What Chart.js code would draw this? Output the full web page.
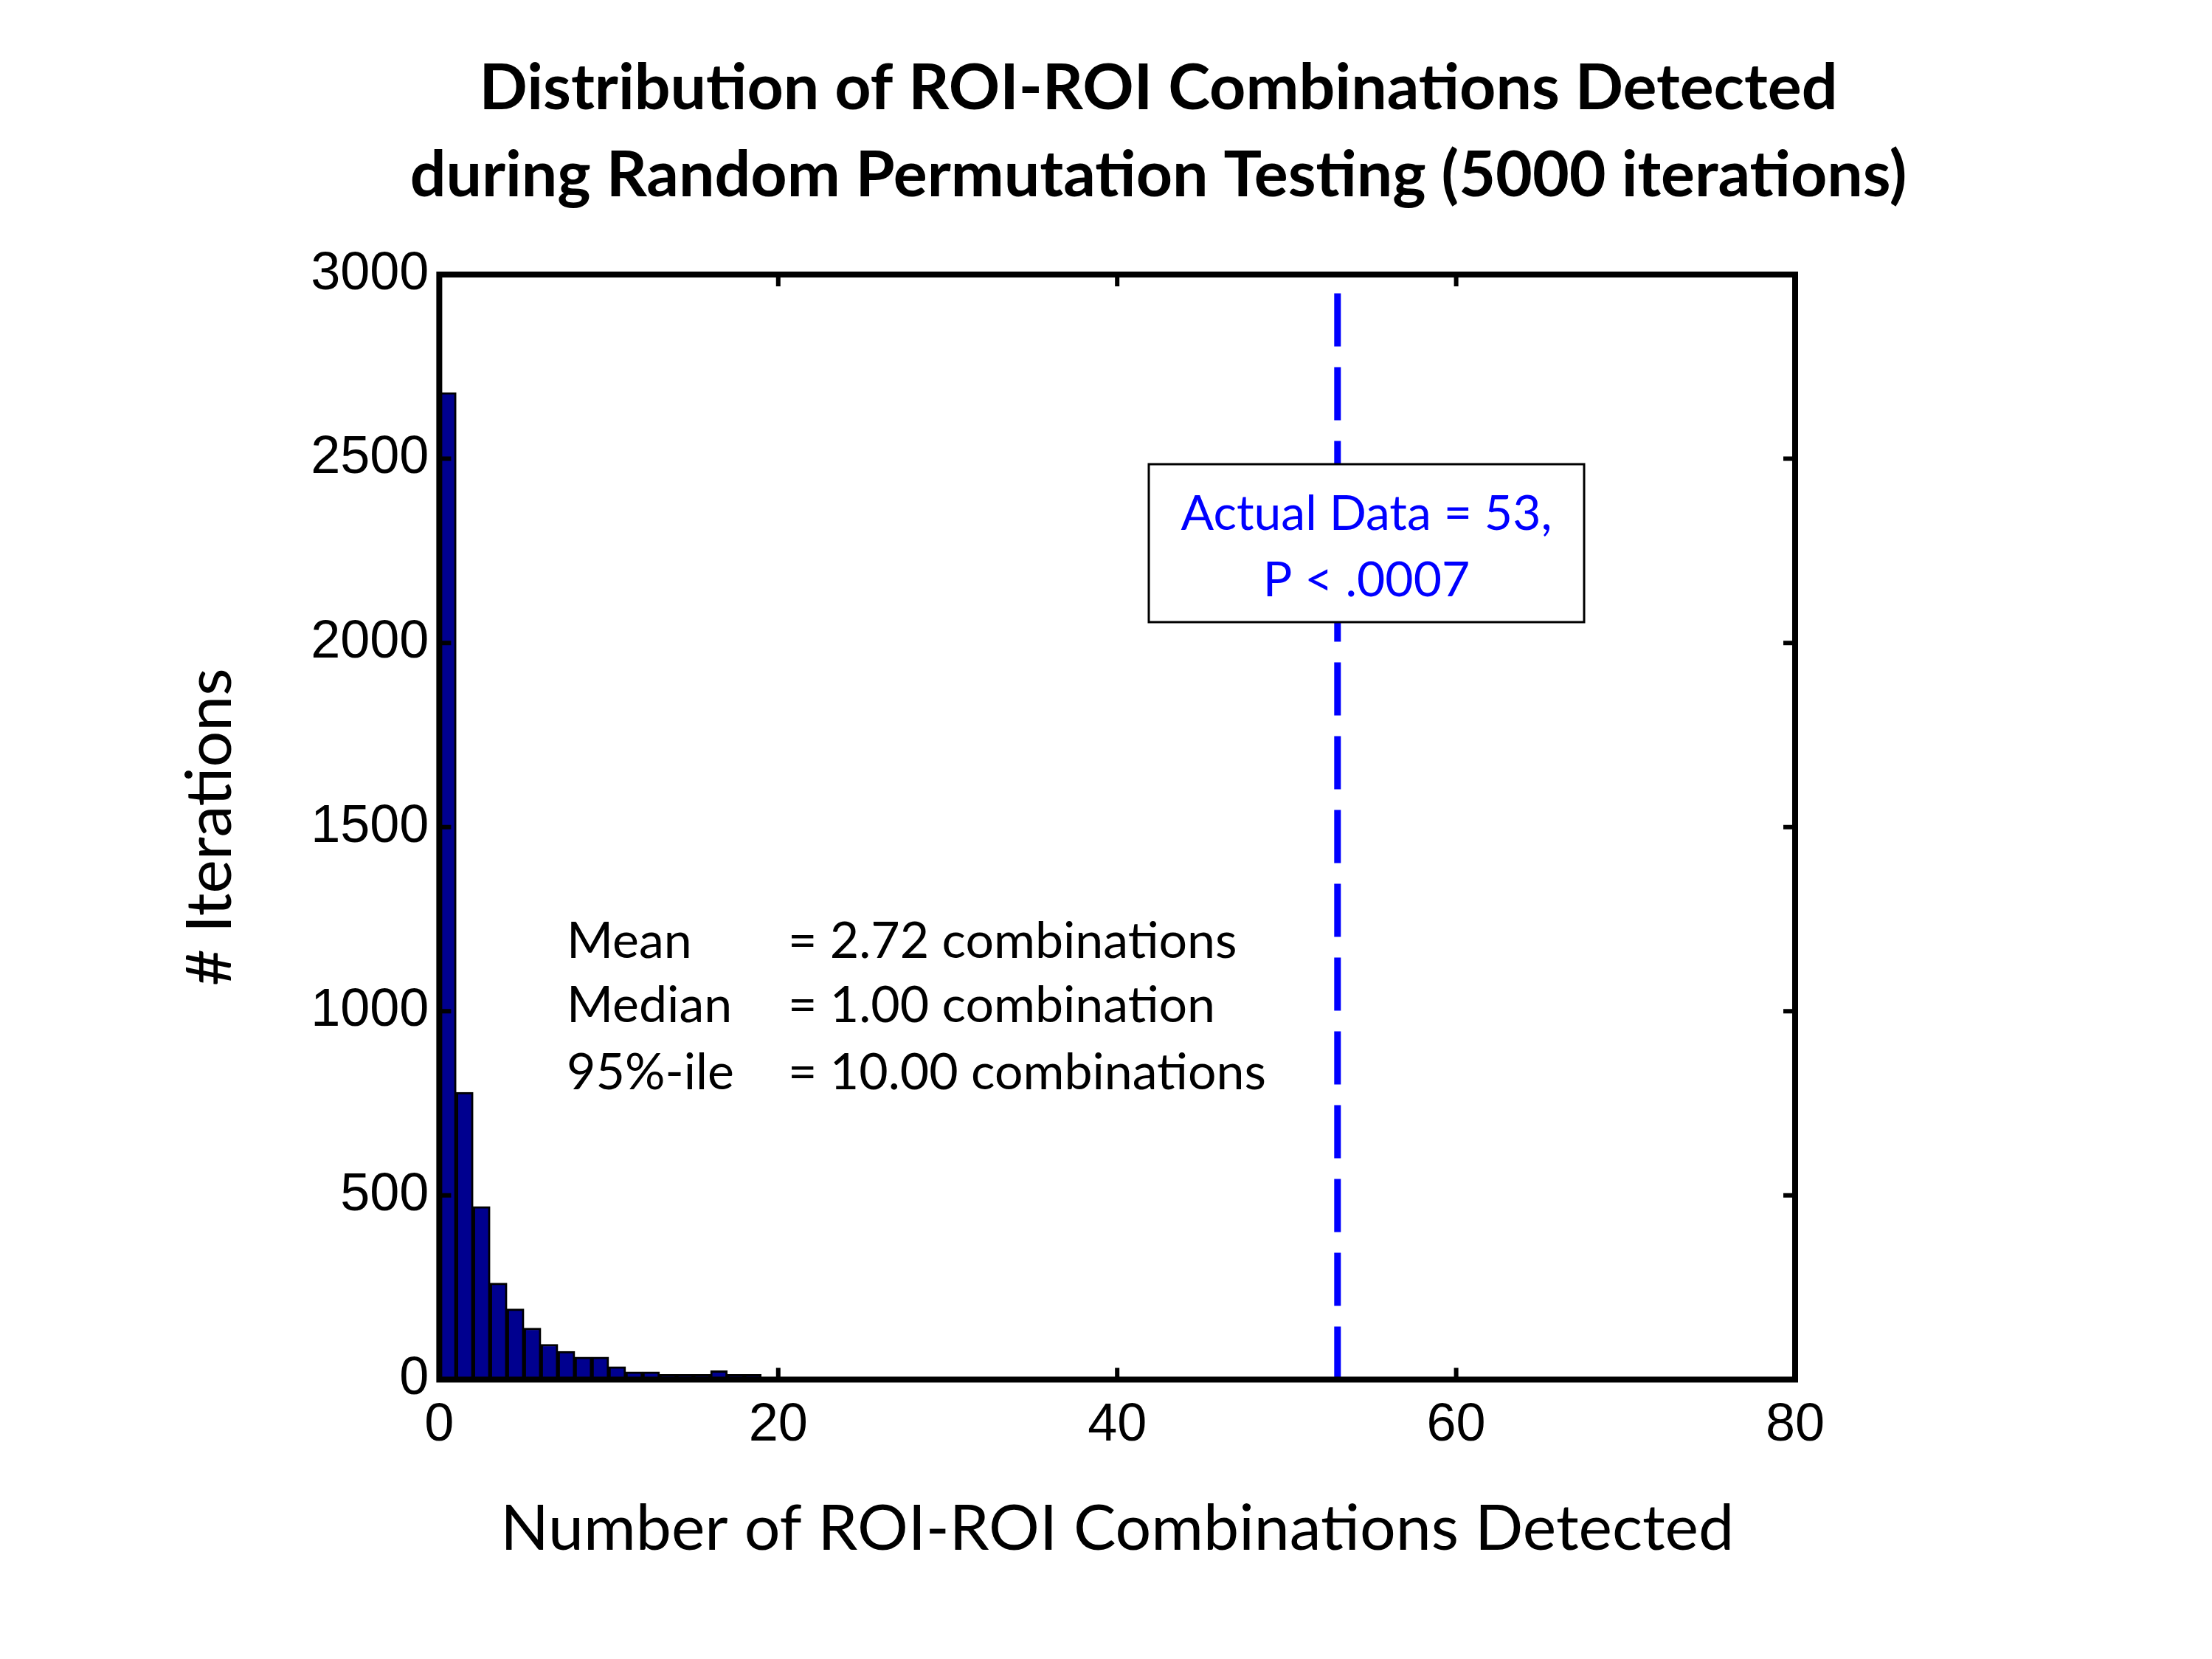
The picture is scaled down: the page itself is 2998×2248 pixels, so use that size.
<!DOCTYPE html>
<html><head><meta charset="utf-8">
<script src="https://cdn.jsdelivr.net/npm/chart.js@4"></script>
<style>html,body{margin:0;padding:0;background:#fff}#w{width:2998px;height:2248px}</style>
</head><body><div id="w"><canvas id="c"></canvas></div>
<script>
const binStarts = [0,1,2,3,4,5,6,7,8,9,10,11,12,13,14,15,16,17,18];
const counts = [2680,780,470,262,192,140,96,77,61,61,35,21,21,14,14,14,24,14,14];
const actualValue = 53;
const xTicks = [0,20,40,60,80];
const yTicks = [0,500,1000,1500,2000,2500,3000];
const titleLines = ['Distribution of ROI-ROI Combinations Detected','during Random Permutation Testing (5000 iterations)'];
const statLabels = ['Mean','Median','95%-ile'];
const statValues = ['= 2.72 combinations','= 1.00 combination','= 10.00 combinations'];
const boxLines = ['Actual Data = 53,','P < .0007'];

const decor = {
  id:'decor',
  afterDatasetsDraw(ch){
    const {ctx, chartArea:a, scales:{x,y}} = ch;
    ctx.save();
    // title
    ctx.fillStyle='#000'; ctx.textAlign='center'; ctx.textBaseline='middle';
    ctx.font='bold 86px Lato, "Open Sans", sans-serif';
    ctx.fillText(titleLines[0],1570,120);
    ctx.fillText(titleLines[1],1570,238);
    // dashed line
    ctx.strokeStyle='#0000ff'; ctx.lineWidth=9; ctx.setLineDash([72,28]);
    const lx = x.getPixelForValue(actualValue);
    ctx.beginPath(); ctx.moveTo(lx,a.bottom); ctx.lineTo(lx,a.top); ctx.stroke();
    ctx.setLineDash([]);
    // frame
    ctx.strokeStyle='#000'; ctx.lineWidth=8;
    ctx.strokeRect(a.left,a.top,a.right-a.left,a.bottom-a.top);
    ctx.lineWidth=6;
    const t=16;
    xTicks.forEach(v=>{const p=x.getPixelForValue(v);
      ctx.beginPath();ctx.moveTo(p,a.bottom);ctx.lineTo(p,a.bottom-t);ctx.moveTo(p,a.top);ctx.lineTo(p,a.top+t);ctx.stroke();});
    yTicks.forEach(v=>{const p=y.getPixelForValue(v);
      ctx.beginPath();ctx.moveTo(a.left,p);ctx.lineTo(a.left+t,p);ctx.moveTo(a.right,p);ctx.lineTo(a.right-t,p);ctx.stroke();});
    // box
    const bx=1557,bw=590,by=629,bh=214;
    ctx.fillStyle='#fff'; ctx.fillRect(bx,by,bw,bh);
    ctx.lineWidth=3; ctx.strokeStyle='#000'; ctx.strokeRect(bx,by,bw,bh);
    ctx.fillStyle='#0000ff'; ctx.font='66px Lato, "Open Sans", sans-serif';
    ctx.textAlign='center'; ctx.textBaseline='middle';
    ctx.fillText(boxLines[0], bx+bw/2, 697);
    ctx.fillText(boxLines[1], bx+bw/2, 787);
    // stats
    ctx.fillStyle='#000'; ctx.textAlign='left'; ctx.font='68px Lato, "Open Sans", sans-serif';
    const ys=[1276,1363,1454];
    statLabels.forEach((s,i)=>{ctx.fillText(s,768,ys[i]);ctx.fillText(statValues[i],1068,ys[i]);});
    ctx.restore();
  }
};

new Chart(document.getElementById('c'),{
  type:'bar',
  data:{datasets:[{
    data: binStarts.map((b,i)=>({x:b+0.5,y:counts[i]})),
    backgroundColor:'#00008f', borderColor:'#000', borderWidth:3,
    barPercentage:1, categoryPercentage:1, grouped:false
  }]},
  options:{
    responsive:true, maintainAspectRatio:false, animation:false, devicePixelRatio:1,
    layout:{padding:{left:230,right:565,top:372,bottom:120}},
    plugins:{legend:{display:false}, tooltip:{enabled:false}, title:{display:false}},
    scales:{
      x:{type:'linear',min:0,max:80,offset:false,
        afterBuildTicks:s=>{s.ticks=xTicks.map(v=>({value:v}));},
        grid:{display:false,drawTicks:false}, border:{display:false},
        ticks:{color:'#000',font:{family:'"Liberation Sans", Arial',size:72},padding:20,maxRotation:0},
        title:{display:true,text:'Number of ROI-ROI Combinations Detected',color:'#000',
          font:{family:'Lato, "Open Sans", sans-serif',size:86},padding:{top:25}}},
      y:{min:0,max:3000,
        afterBuildTicks:s=>{s.ticks=yTicks.map(v=>({value:v}));},
        grid:{display:false,drawTicks:false}, border:{display:false},
        ticks:{color:'#000',font:{family:'"Liberation Sans", Arial',size:72},padding:14,callback:v=>String(v)},
        title:{display:true,text:'# Iterations',color:'#000',
          font:{family:'Lato, "Open Sans", sans-serif',size:86},padding:{bottom:70}}}
    }
  },
  plugins:[decor]
});
</script></body></html>
